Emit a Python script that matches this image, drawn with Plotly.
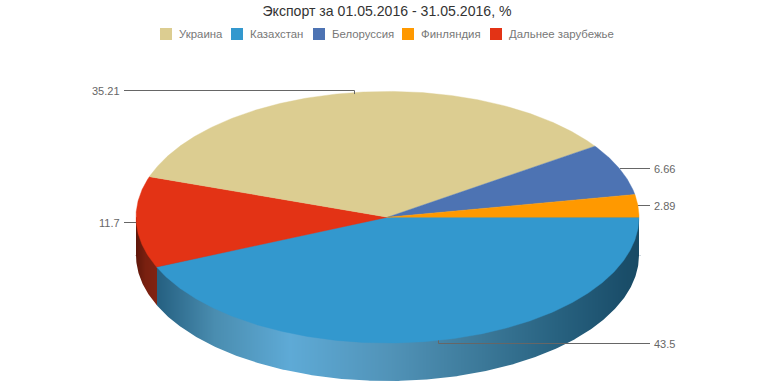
import math
import plotly.graph_objects as go

# Data, in drawing order (clockwise from 3 o'clock)
categories = ["Казахстан", "Дальнее зарубежье", "Украина", "Белоруссия", "Финляндия"]
values = [43.5, 11.7, 35.21, 6.66, 2.89]
value_labels = ["43.5", "11.7", "35.21", "6.66", "2.89"]
colors = ["#3398CE", "#E33315", "#DCCD91", "#4D73B3", "#FF9900"]
legend_order = ["Украина", "Казахстан", "Белоруссия", "Финляндия", "Дальнее зарубежье"]
title = "Экспорт за 01.05.2016 - 31.05.2016, %"

# Layout constants (pixels)
W, H = 774, 387
CX, CY, RX, RY, DEPTH = 387.5, 217.2, 251.5, 125.8, 38
legend_swatch_x = [160, 231, 313, 402, 490]
legend_y = 34
swatch = 12
right_label_x, left_label_x = 654, 120
blue_side = [(215, "#4A8DB0"), (290, "#5EAAD6"), (390, "#5193B8"), (480, "#3C7999"),
             (560, "#27617F"), (620, "#1B4F6B"), (640, "#184A64")]
blue_side_start = "#245F80"
red_side = [(136, "#5E170A"), (146, "#7A2010")]
red_side_end = "#802312"


def pt(t, depth=0):
    r = math.radians(t)
    return CX + RX * math.cos(r), CY + RY * math.sin(r) + depth


def arc(t0, t1, depth=0):
    n = max(2, int(abs(t1 - t0) * 2))
    return [pt(t0 + (t1 - t0) * i / n, depth) for i in range(n + 1)]


total = sum(values)
angles = [0]
for v in values:
    angles.append(angles[-1] + v / total * 360)

fig = go.Figure()


def poly(points, color, name=None, line=0.6):
    xs = [p[0] for p in points] + [points[0][0]]
    ys = [p[1] for p in points] + [points[0][1]]
    fig.add_trace(go.Scatter(x=xs, y=ys, mode="lines", fill="toself", fillcolor=color,
                             line=dict(color=color, width=line), showlegend=False,
                             hoverinfo="skip" if name is None else "text",
                             text=name))


# Side wall: a horizontal colour ramp, cut to shape by the white area under the lower rim
seam_x = pt(angles[1])[0]
x_lo, x_hi = int(CX - RX) - 1, int(CX + RX) + 2
span = x_hi - x_lo
stops = []
for x, c in red_side:
    stops.append([(x - x_lo) / span, c])
stops.append([(seam_x - x_lo) / span, red_side_end])
stops.append([(seam_x - x_lo) / span, blue_side_start])
for x, c in blue_side:
    stops.append([(x - x_lo) / span, c])
stops = [[0, red_side[0][1]]] + stops + [[1, blue_side[-1][1]]]
edges = list(range(x_lo, x_hi + 1))
fig.add_trace(go.Heatmap(x=edges, y=[CY, H], z=[[x + 0.5 for x in edges[:-1]]],
                         zmin=x_lo, zmax=x_hi, colorscale=stops, showscale=False,
                         hoverinfo="skip", zsmooth=False))
# White masks: below the lower rim, and either side of the pie
mask = arc(0, 180, DEPTH)
poly([(x_hi + 2, CY + DEPTH), (x_hi + 2, H + 2), (x_lo - 2, H + 2), (x_lo - 2, CY + DEPTH)][:0] + mask
     + [(x_lo - 2, CY + DEPTH), (x_lo - 2, H + 2), (x_hi + 2, H + 2), (x_hi + 2, CY + DEPTH)], "white", line=0)
poly([(x_lo - 2, CY - 1), (CX - RX, CY - 1), (CX - RX, CY + DEPTH), (x_lo - 2, CY + DEPTH)], "white", line=0)
poly([(x_hi + 2, CY - 1), (CX + RX, CY - 1), (CX + RX, CY + DEPTH), (x_hi + 2, CY + DEPTH)], "white", line=0)

# Top faces
for name, v, c, a0, a1 in zip(categories, values, colors, angles, angles[1:]):
    poly([(CX, CY)] + arc(a0, a1), c, name=f"{name}: {v}", line=0.4)

# Leader lines and value labels
annotations = []
for name, lab, a0, a1 in zip(categories, value_labels, angles, angles[1:]):
    mid = (a0 + a1) / 2
    px, py = pt(mid)
    right = math.cos(math.radians(mid)) > 0
    end_x = right_label_x - 4 if right else left_label_x + 4
    if name == "Казахстан":
        ly = math.floor(py + 3) + 0.5
        vx = math.floor(px) + 0.5
        xs, ys = [vx, vx, end_x], [py, ly, ly]
    elif name == "Украина":
        ly = math.floor(py - 2) + 0.5
        vx = math.floor(px + 1) + 0.5
        xs, ys = [vx, vx, end_x], [py + 1.5, ly, ly]
    else:
        ly = (math.floor(py - 0.5) if right else math.floor(py)) + 0.5
        xs, ys = [px, end_x], [ly, ly]
    fig.add_trace(go.Scatter(x=xs, y=ys, mode="lines", line=dict(color="#666666", width=1),
                             showlegend=False, hoverinfo="skip"))
    annotations.append(dict(x=right_label_x if right else left_label_x, y=ly, xref="x", yref="y",
                            text=lab, showarrow=False, xanchor="left" if right else "right",
                            yanchor="middle", font=dict(family="Liberation Sans", size=11, color="#666666"),
                            borderpad=0, borderwidth=0))

# Legend row
shapes = []
lookup = dict(zip(categories, colors))
for name, sx in zip(legend_order, legend_swatch_x):
    shapes.append(dict(type="rect", xref="x", yref="y", x0=sx, x1=sx + swatch,
                       y0=legend_y - swatch / 2, y1=legend_y + swatch / 2,
                       fillcolor=lookup[name], line=dict(width=0), layer="above"))
    annotations.append(dict(x=sx + swatch + 6, y=legend_y, xref="x", yref="y", text=name,
                            showarrow=False, xanchor="left", yanchor="middle",
                            font=dict(family="Liberation Sans", size=11.4, color="#777777"),
                            borderpad=0))

fig.update_layout(
    width=W, height=H, margin=dict(l=0, r=0, t=0, b=0),
    paper_bgcolor="white", plot_bgcolor="white", showlegend=False,
    title=dict(text=title, x=0.5, xanchor="center", y=1 - 11 / H, yanchor="middle",
               font=dict(family="Liberation Sans", size=14.1, color="#333333")),
    xaxis=dict(range=[0, W], visible=False, fixedrange=True),
    yaxis=dict(range=[H, 0], visible=False, fixedrange=True),
    shapes=shapes, annotations=annotations,
)
fig.write_html("out.html", config={"displayModeBar": False},
               post_script="document.body.style.margin='0';document.documentElement.style.overflow='hidden';")
